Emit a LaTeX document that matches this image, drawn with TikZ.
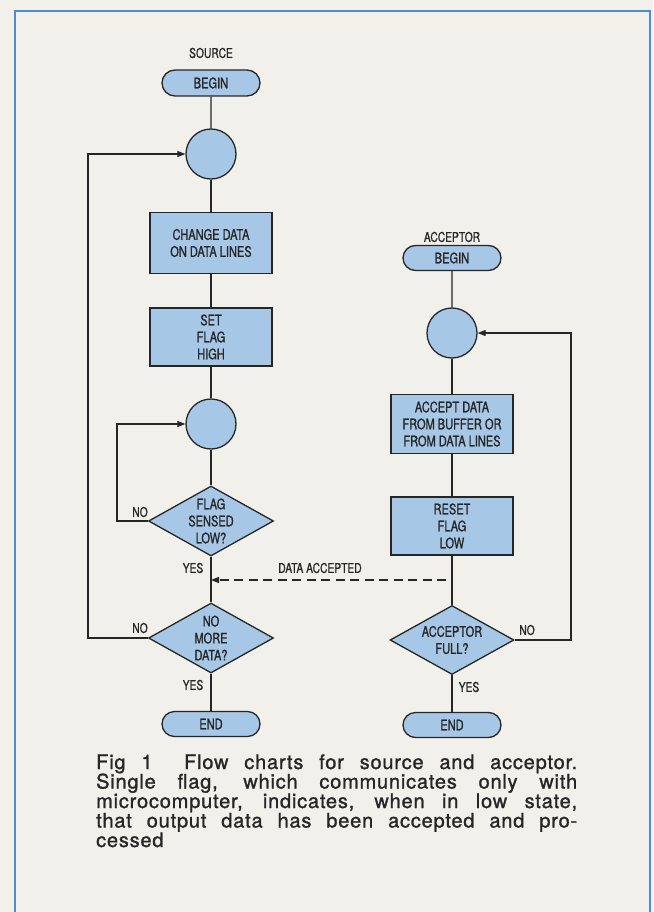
\documentclass[tikz,border=0pt]{standalone}
\usepackage{fontspec}
\setmainfont{TeX Gyre Heros}
\newfontfamily\condfont{TeX Gyre Heros}[FakeStretch=0.76,FakeBold=0.9]
\newfontfamily\capfont{TeX Gyre Heros}[LetterSpace=4,FakeBold=1.2]
\usetikzlibrary{shapes.geometric,shapes.misc,arrows.meta}
\definecolor{paper}{RGB}{241,240,235}
\definecolor{frameblue}{RGB}{74,140,214}
\definecolor{boxblue}{RGB}{166,199,230}
\definecolor{ink}{RGB}{38,38,38}
\tikzset{
  shp/.style={draw=ink, line width=1.3pt, fill=boxblue, inner sep=0pt},
  term/.style={shp, rounded rectangle, minimum width=98pt, minimum height=26pt,
    font=\condfont\fontsize{14.5}{17}\selectfont, text=ink},
  joint/.style={shp, circle, minimum size=50pt},
  proc/.style={shp, rectangle, minimum width=122pt, align=center,
    font=\condfont\fontsize{14.5}{17}\selectfont, text=ink},
  dia/.style={shp, diamond, minimum width=125pt, minimum height=70pt},
  dtxt/.style={align=center, inner sep=0pt, font=\condfont\fontsize{14.5}{17}\selectfont, text=ink},
  lbl/.style={inner sep=0pt, font=\condfont\fontsize{13.5}{15}\selectfont, text=ink},
  ln/.style={draw=ink, line width=1.1pt},
  arr/.style={ln, -{Triangle[length=8pt,width=6pt]}},
  captxt/.style={inner sep=0pt, anchor=base west, font=\capfont\fontsize{20}{19.5}\selectfont, text=ink}
}
\begin{document}
\begin{tikzpicture}[x=1pt,y=-1pt]
\useasboundingbox (0,0) rectangle (653,912);
\fill[paper] (0,0) rectangle (653,912);
\draw[frameblue, line width=2.8pt] (15,914) -- (15,11) -- (650,11) -- (650,914);

% source column
\node[lbl] (srcl) at (211,53) {SOURCE};
\node[term] (b1) at (211,83) {BEGIN};
\node[joint] (c1) at (211,154) {};
\node[proc, minimum height=61pt] (p1) at (211,243) {CHANGE DATA\\ON DATA LINES};
\node[proc, minimum height=58pt] (p2) at (211,337) {SET\\FLAG\\HIGH};
\node[joint] (c2) at (211,424) {};
\node[dia, label={[dtxt]center:FLAG\\SENSED\\LOW?}] (d1) at (211,521) {};
\node[dia, label={[dtxt]center:NO\\MORE\\DATA?}] (d2) at (211,638) {};
\node[term, minimum height=25pt] (e1) at (211,724) {END};

% acceptor column
\node[lbl] (accl) at (452,237) {ACCEPTOR};
\node[term, minimum height=25pt] (b2) at (452,258) {BEGIN};
\node[joint] (ac) at (452,333) {};
\node[proc, minimum height=59pt] (q1) at (452,424) {ACCEPT DATA\\FROM BUFFER OR\\FROM DATA LINES};
\node[proc, minimum height=58pt] (q2) at (452,526) {RESET\\FLAG\\LOW};
\node[dia, minimum width=124pt, minimum height=69pt, label={[dtxt]center:ACCEPTOR\\FULL?}] (ad) at (452,640) {};
\node[term, minimum height=25pt] (e2) at (452,725) {END};

% loop corners
\coordinate (lo) at (88,638);
\coordinate (li) at (117,521);
\coordinate (ar) at (571,640);
\coordinate (dA) at (446,580);
\coordinate (dS) at (211,580);

% source connectors
\draw[ln] (b1) -- (c1);
\draw[ln] (c1) -- (p1);
\draw[ln] (p1) -- (p2);
\draw[ln] (p2) -- (c2);
\draw[ln] (c2) -- (d1);
\draw[ln] (d1) -- (d2);
\draw[ln] (d2) -- (e1);
\draw[arr] (d1.west) -- (d1.west -| li) |- (c2.west);
\draw[arr] (d2.west) -- (d2.west -| lo) |- (c1.west);

% acceptor connectors
\draw[ln] (b2) -- (ac);
\draw[ln] (ac) -- (q1);
\draw[ln] (q1) -- (q2);
\draw[ln] (q2) -- (ad);
\draw[ln] (ad) -- (e2);
\draw[arr] (ad.east) -- (ad.east -| ar) |- (ac.east);

% data accepted
\draw[arr, dash pattern=on 9pt off 5.5pt] (dA) -- (dS);
\node[lbl] (dal) at (320,568) {DATA ACCEPTED};

% yes/no labels
\node[lbl] (no1) at (140,512) {NO};
\node[lbl] (no2) at (140,628) {NO};
\node[lbl] (no3) at (527,630) {NO};
\node[lbl] (yes1) at (193,568) {YES};
\node[lbl] (yes2) at (193,685) {YES};
\node[lbl] (yes3) at (469,687) {YES};

% caption
\node[captxt] (cap1) at (96,769) {\makebox[481pt][s]{Fig 1\ \ Flow charts for source and acceptor.}};
\node[captxt] (cap2) at (96,788.5) {\makebox[481pt][s]{Single flag, which communicates only with}};
\node[captxt] (cap3) at (96,808) {\makebox[481pt][s]{microcomputer, indicates, when in low state,}};
\node[captxt] (cap4) at (96,827.5) {\makebox[481pt][s]{that output data has been accepted and pro-}};
\node[captxt] (cap5) at (96,847) {cessed};
\end{tikzpicture}
\end{document}
